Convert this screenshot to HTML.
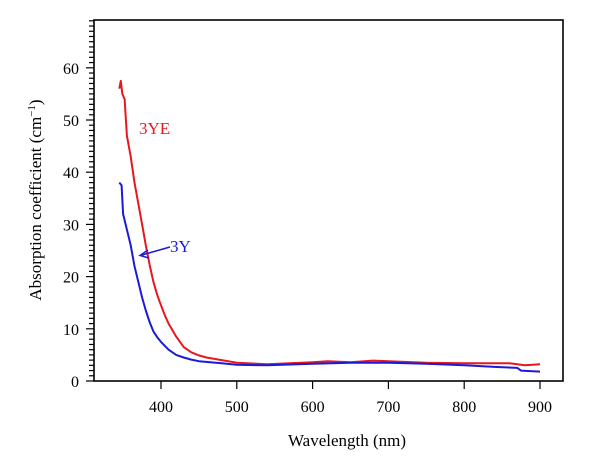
<!DOCTYPE html>
<html><head><meta charset="utf-8"><style>
html,body{margin:0;padding:0;background:#fff;width:600px;height:472px;overflow:hidden}
text{font-family:"Liberation Serif",serif}
</style></head><body>
<svg id="s" width="600" height="472" xmlns="http://www.w3.org/2000/svg">
<rect x="94" y="20" width="469" height="361" fill="none" stroke="#000" stroke-width="1.6"/>
<g id="ticks" stroke="#000" stroke-width="1.2"></g>
<g id="lbl" font-size="16" fill="#000"></g>
<text x="347" y="446" font-size="17" text-anchor="middle">Wavelength (nm)</text>
<text transform="translate(41,200) rotate(-90)" font-size="17" text-anchor="middle">Absorption coefficient (cm<tspan dy="-6" font-size="11">−1</tspan><tspan dy="6">)</tspan></text>
<polyline id="red" fill="none" stroke="#e8161e" stroke-width="2" stroke-linejoin="round"/>
<polyline id="blue" fill="none" stroke="#1a1ad8" stroke-width="2" stroke-linejoin="round"/>
<text x="139" y="134" font-size="17" fill="#e8161e">3YE</text>
<text x="170" y="252" font-size="17" fill="#1a1ad8">3Y</text>
<line x1="170" y1="247" x2="142" y2="255" stroke="#1a1ad8" stroke-width="1.5"/>
<polyline points="148,250 140,255.5 149,258" fill="none" stroke="#1a1ad8" stroke-width="1.5"/>
</svg>
<script>
var X=function(l){return 161+(l-400)*0.758},Y=function(v){return 381-v*5.22};
var t=document.getElementById('ticks'),lb=document.getElementById('lbl'),h='',g='';
for(var v=0;v<=69;v++){var y=Y(v),len=v%10==0?8:5;h+='<line x1="'+(94-len)+'" y1="'+y+'" x2="94" y2="'+y+'"/>';
if(v%10==0)g+='<text x="79" y="'+(y+6)+'" text-anchor="end">'+v+'</text>';}
for(var l=400;l<=900;l+=100){var x=X(l);h+='<line x1="'+x+'" y1="381" x2="'+x+'" y2="389"/>';g+='<text x="'+x+'" y="412" text-anchor="middle">'+l+'</text>';}
t.innerHTML=h;lb.innerHTML=g;
var R=[[345,56],[347,57.5],[349,55],[352,54],[355,47],[360,43],[365,38],[370,34],[375,30],[380,26],[385,22.3],[390,19],[395,16.5],[400,14.5],[405,12.6],[410,11],[420,8.5],[430,6.5],[440,5.5],[450,4.9],[460,4.5],[480,4],[500,3.5],[540,3.2],[600,3.6],[620,3.8],[650,3.6],[680,3.9],[700,3.8],[750,3.5],[800,3.4],[860,3.4],[870,3.2],[880,3],[900,3.2]];
var B=[[345,38],[348,37.5],[350,32],[355,29],[360,26],[365,22],[370,19],[375,16],[380,13.5],[385,11.3],[390,9.5],[395,8.4],[400,7.5],[410,6],[420,5],[430,4.5],[440,4.1],[450,3.8],[480,3.4],[500,3.1],[540,3],[600,3.3],[650,3.5],[700,3.5],[750,3.3],[800,3],[840,2.7],[870,2.5],[875,2],[900,1.8]];
function p(a){return a.map(function(q){return X(q[0]).toFixed(1)+','+Y(q[1]).toFixed(1)}).join(' ')}
document.getElementById('red').setAttribute('points',p(R));
document.getElementById('blue').setAttribute('points',p(B));
</script>
</body></html>
